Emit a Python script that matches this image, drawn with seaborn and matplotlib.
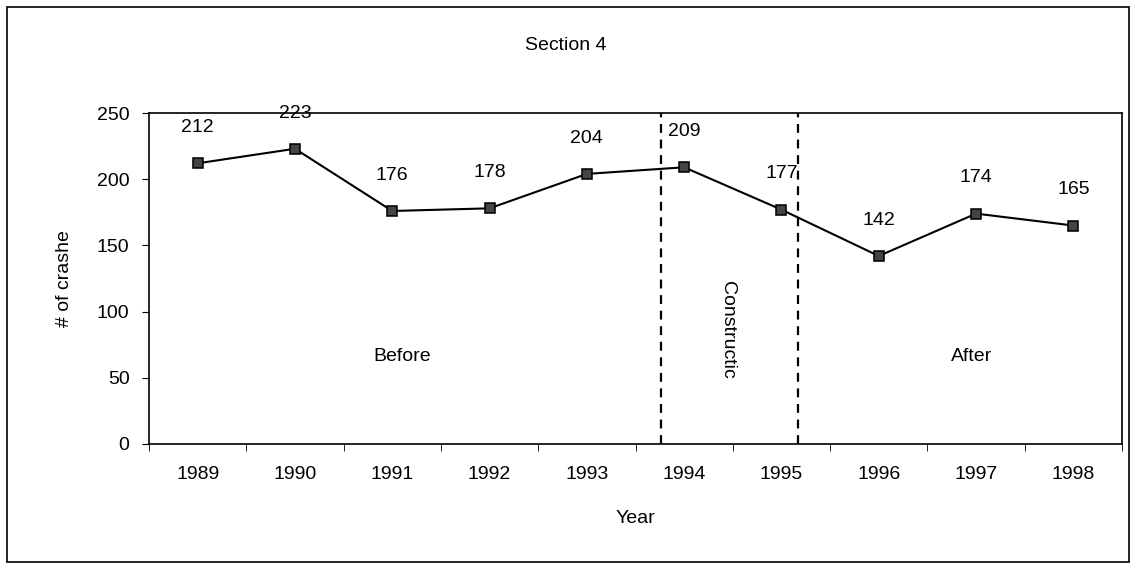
import numpy as np
import pandas as pd
import seaborn as sns
import matplotlib.pyplot as plt
from matplotlib.patches import Rectangle

years = ["1989", "1990", "1991", "1992", "1993", "1994", "1995", "1996", "1997", "1998"]
crashes = [212, 223, 176, 178, 204, 209, 177, 142, 174, 165]
period_labels = ["Before", "Constructic", "After"]

df = pd.DataFrame({"Year": years, "crashes": crashes})

sns.set_style("white")
plt.rcParams['font.family'] = ['Liberation Sans', 'DejaVu Sans']
plt.rcParams['text.color'] = 'black'
plt.rcParams['axes.labelcolor'] = 'black'
plt.rcParams['xtick.color'] = 'black'
plt.rcParams['ytick.color'] = 'black'

fs = 14

fig = plt.figure(figsize=(11.33, 5.63), dpi=100)
ax = fig.add_axes([149 / 1133, 1 - 444 / 563, (1122 - 149) / 1133, (444 - 113) / 563])

sns.pointplot(x="Year", y="crashes", data=df, color="black", ax=ax,
              marker="s", markersize=7.5, markerfacecolor="#444444",
              markeredgecolor="black", linewidth=1.5)

ax.set_xlim(-0.5, 9.5)
ax.set_ylim(0, 250)
ax.set_yticks([0, 50, 100, 150, 200, 250])

# data labels above markers
for i, v in enumerate(crashes):
  ax.text(i, v + 27, str(v), ha="center", va="center", fontsize=fs)

# construction period boundaries
ax.axvline(4.76, color="black", linestyle=(0, (4, 3)), linewidth=1.6)
ax.axvline(6.17, color="black", linestyle=(0, (4, 3)), linewidth=1.6)

ax.text(2.1, 66, period_labels[0], ha="center", va="center", fontsize=fs)
ax.text(5.45, 86, period_labels[1], ha="center", va="center", fontsize=fs, rotation=-90)
ax.text(7.95, 66, period_labels[2], ha="center", va="center", fontsize=fs)

# ticks between categories like Excel
ax.set_xticks(np.arange(10))
ax.set_xticklabels(years, fontsize=fs)
ax.set_xticks(np.arange(-0.5, 10, 1), minor=True)
ax.tick_params(axis="x", which="major", length=0, pad=16)
ax.tick_params(axis="x", which="minor", length=5, direction="out", color="black", bottom=True)
ax.tick_params(axis="y", length=5, direction="out", color="black", left=True, labelsize=fs, pad=9)

for s in ax.spines.values():
  s.set_visible(True)
  s.set_color("black")
  s.set_linewidth(1.2)

ax.set_xlabel("Year", fontsize=fs, labelpad=19)
ax.set_ylabel("# of crashe", fontsize=fs, labelpad=17)

fig.text(566 / 1133, 1 - 45 / 563, "Section 4", ha="center", va="center", fontsize=fs)

fig.patches.append(Rectangle((7 / 1133, 1 / 563), 1122 / 1133, 555 / 563,
                             transform=fig.transFigure, fill=False,
                             edgecolor="black", linewidth=1.2))

fig.savefig("out.png", dpi=100)
